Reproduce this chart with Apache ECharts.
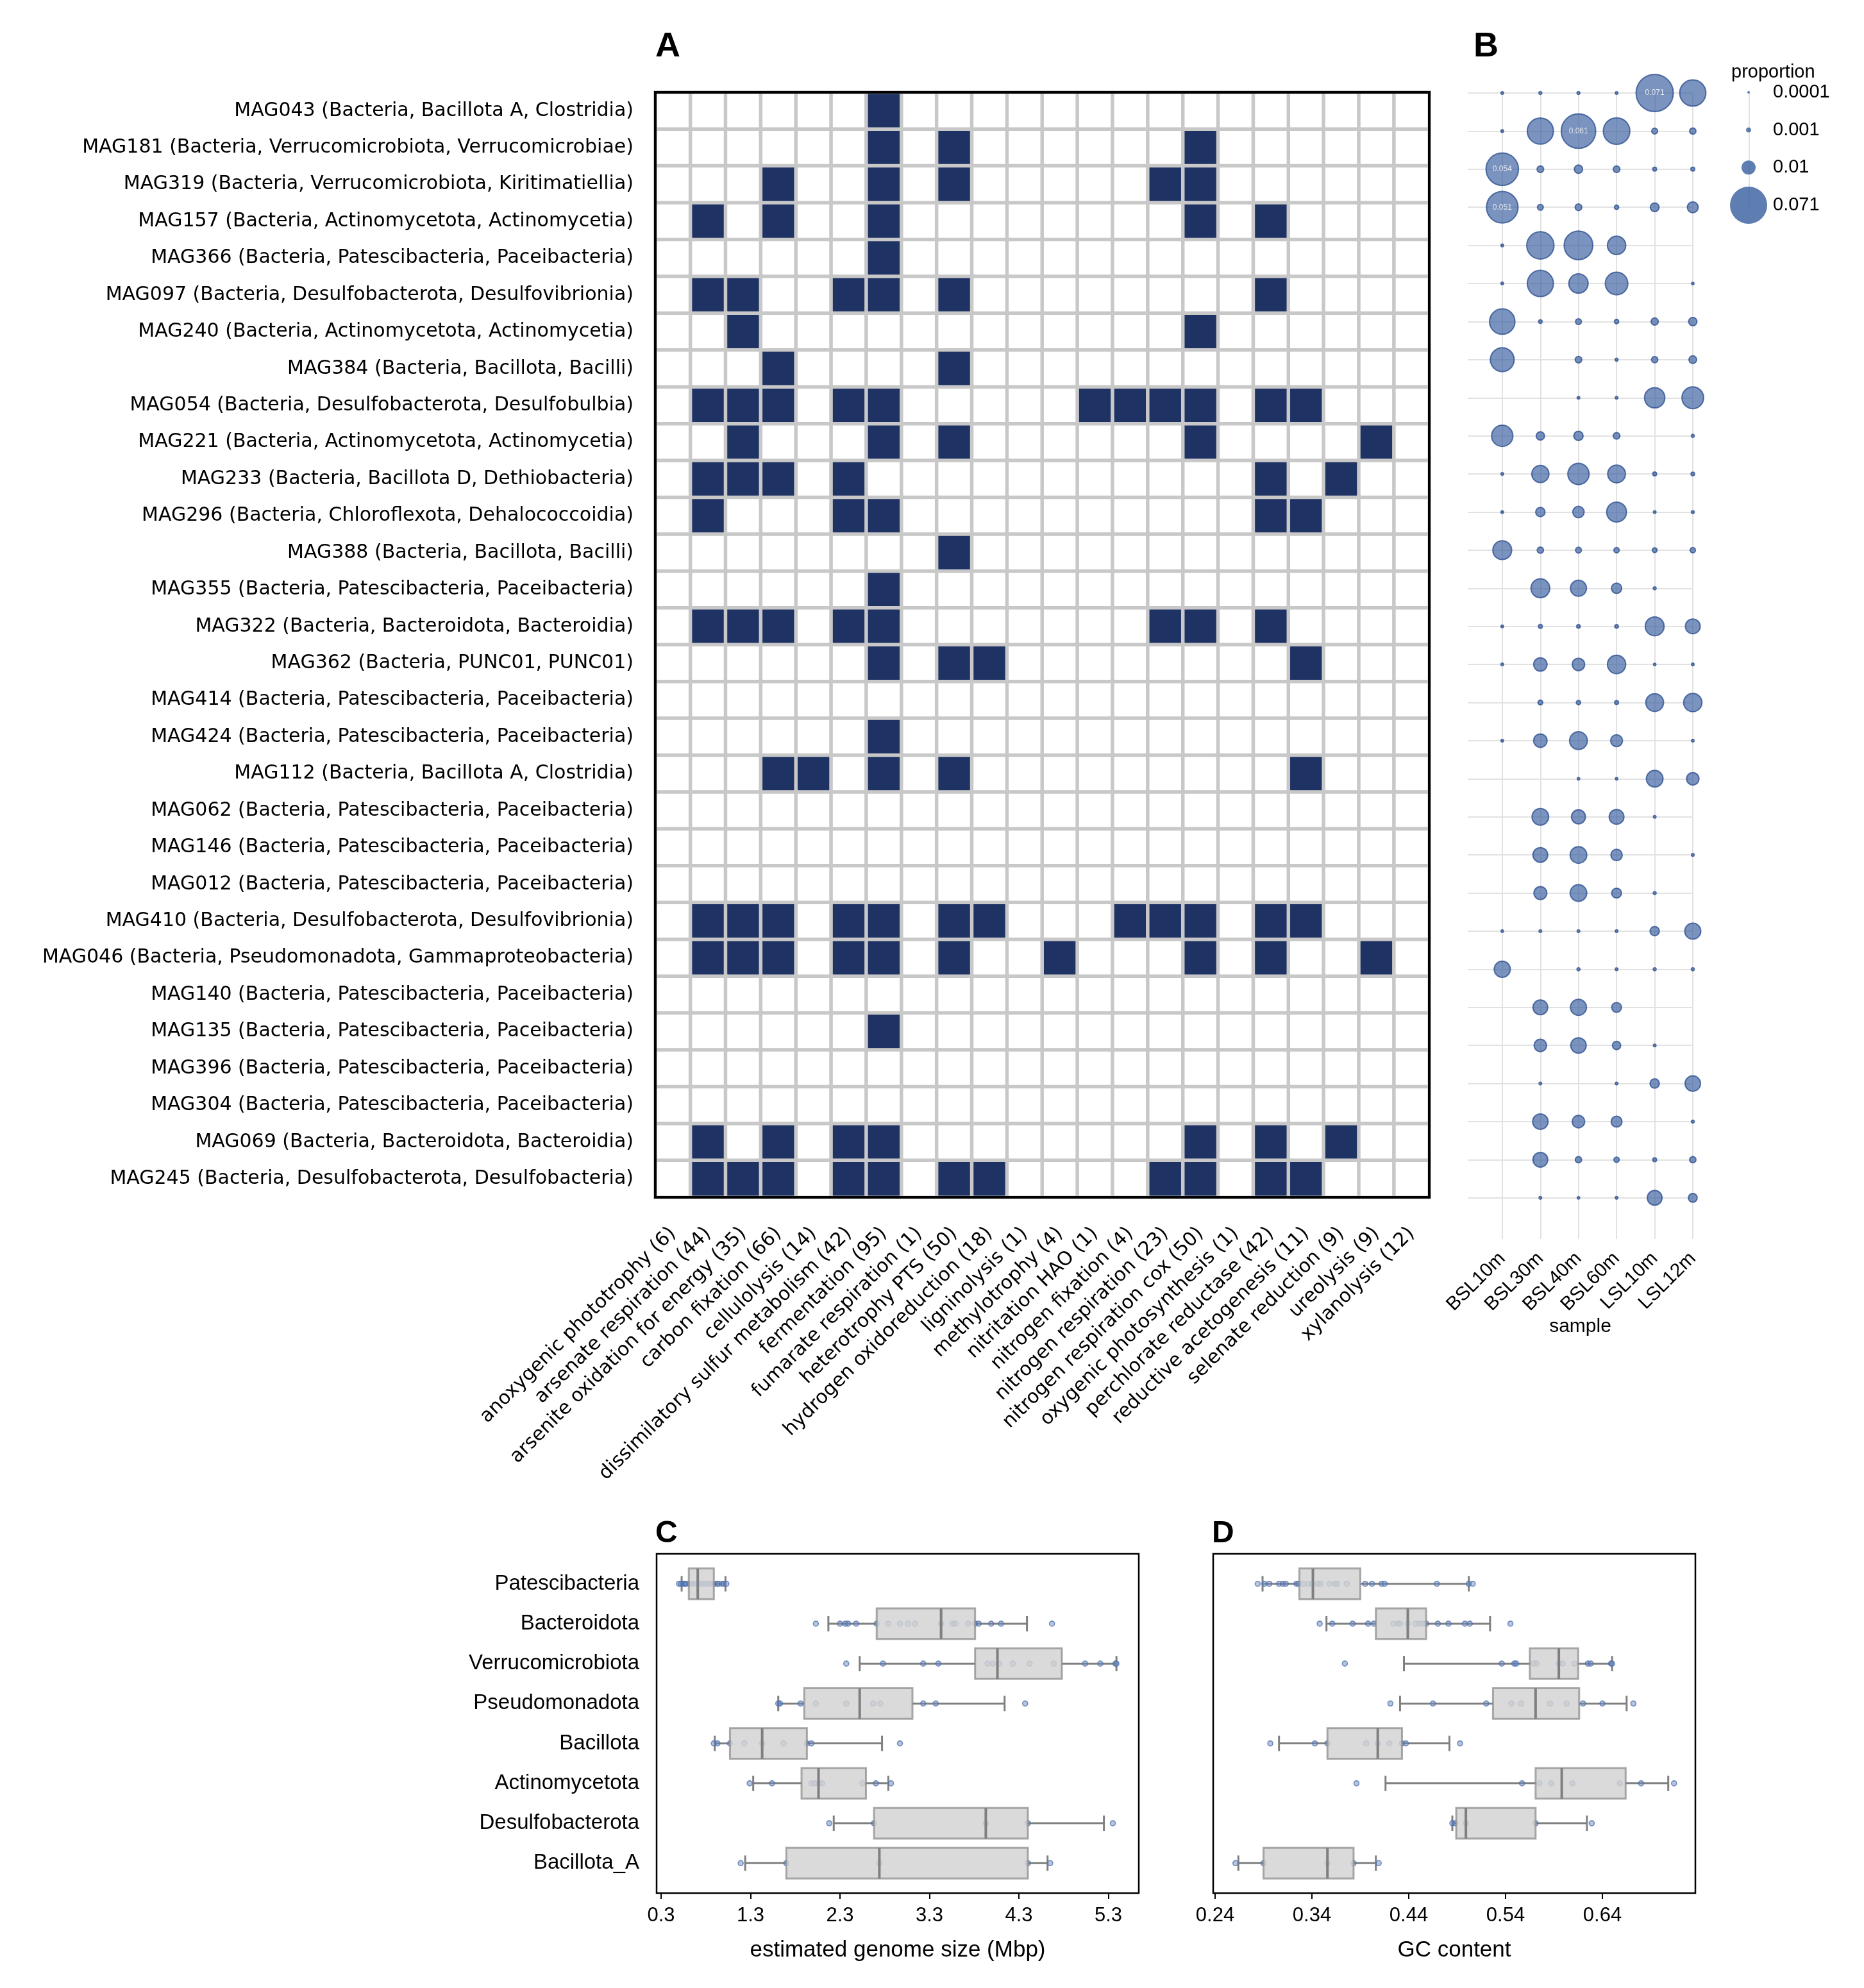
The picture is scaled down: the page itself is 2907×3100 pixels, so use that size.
<!DOCTYPE html>
<html>
<head>
<meta charset="utf-8">
<title>MAG functions, abundance and genome traits</title>
<script src="https://cdn.jsdelivr.net/npm/echarts@6/dist/echarts.min.js"></script>
<style>
html, body { margin: 0; padding: 0; background: #fff; }
#chart { width: 2907px; height: 3100px; }
</style>
</head>
<body>
<div id="chart"></div>
<script>
// ---- panel A: functions per MAG ----
const mags = [
  'MAG043 (Bacteria, Bacillota A, Clostridia)',
  'MAG181 (Bacteria, Verrucomicrobiota, Verrucomicrobiae)',
  'MAG319 (Bacteria, Verrucomicrobiota, Kiritimatiellia)',
  'MAG157 (Bacteria, Actinomycetota, Actinomycetia)',
  'MAG366 (Bacteria, Patescibacteria, Paceibacteria)',
  'MAG097 (Bacteria, Desulfobacterota, Desulfovibrionia)',
  'MAG240 (Bacteria, Actinomycetota, Actinomycetia)',
  'MAG384 (Bacteria, Bacillota, Bacilli)',
  'MAG054 (Bacteria, Desulfobacterota, Desulfobulbia)',
  'MAG221 (Bacteria, Actinomycetota, Actinomycetia)',
  'MAG233 (Bacteria, Bacillota D, Dethiobacteria)',
  'MAG296 (Bacteria, Chloroflexota, Dehalococcoidia)',
  'MAG388 (Bacteria, Bacillota, Bacilli)',
  'MAG355 (Bacteria, Patescibacteria, Paceibacteria)',
  'MAG322 (Bacteria, Bacteroidota, Bacteroidia)',
  'MAG362 (Bacteria, PUNC01, PUNC01)',
  'MAG414 (Bacteria, Patescibacteria, Paceibacteria)',
  'MAG424 (Bacteria, Patescibacteria, Paceibacteria)',
  'MAG112 (Bacteria, Bacillota A, Clostridia)',
  'MAG062 (Bacteria, Patescibacteria, Paceibacteria)',
  'MAG146 (Bacteria, Patescibacteria, Paceibacteria)',
  'MAG012 (Bacteria, Patescibacteria, Paceibacteria)',
  'MAG410 (Bacteria, Desulfobacterota, Desulfovibrionia)',
  'MAG046 (Bacteria, Pseudomonadota, Gammaproteobacteria)',
  'MAG140 (Bacteria, Patescibacteria, Paceibacteria)',
  'MAG135 (Bacteria, Patescibacteria, Paceibacteria)',
  'MAG396 (Bacteria, Patescibacteria, Paceibacteria)',
  'MAG304 (Bacteria, Patescibacteria, Paceibacteria)',
  'MAG069 (Bacteria, Bacteroidota, Bacteroidia)',
  'MAG245 (Bacteria, Desulfobacterota, Desulfobacteria)'
];

const functions = [
  'anoxygenic phototrophy (6)', 'arsenate respiration (44)', 'arsenite oxidation for energy (35)',
  'carbon fixation (66)', 'cellulolysis (14)', 'dissimilatory sulfur metabolism (42)',
  'fermentation (95)', 'fumarate respiration (1)', 'heterotrophy PTS (50)',
  'hydrogen oxidoreduction (18)', 'ligninolysis (1)', 'methylotrophy (4)', 'nitritation HAO (1)',
  'nitrogen fixation (4)', 'nitrogen respiration (23)', 'nitrogen respiration cox (50)',
  'oxygenic photosynthesis (1)', 'perchlorate reductase (42)', 'reductive acetogenesis (11)',
  'selenate reduction (9)', 'ureolysis (9)', 'xylanolysis (12)'
];

// column indices (into functions) present in each MAG, same order as mags
const magFunctions = [
  [6],
  [6, 8, 15],
  [3, 6, 8, 14, 15],
  [1, 3, 6, 15, 17],
  [6],
  [1, 2, 5, 6, 8, 17],
  [2, 15],
  [3, 8],
  [1, 2, 3, 5, 6, 12, 13, 14, 15, 17, 18],
  [2, 6, 8, 15, 20],
  [1, 2, 3, 5, 17, 19],
  [1, 5, 6, 17, 18],
  [8],
  [6],
  [1, 2, 3, 5, 6, 14, 15, 17],
  [6, 8, 9, 18],
  [],
  [6],
  [3, 4, 6, 8, 18],
  [],
  [],
  [],
  [1, 2, 3, 5, 6, 8, 9, 13, 14, 15, 17, 18],
  [1, 2, 3, 5, 6, 8, 11, 15, 17, 20],
  [],
  [6],
  [],
  [],
  [1, 3, 5, 6, 15, 17, 19],
  [1, 2, 3, 5, 6, 8, 9, 14, 15, 17, 18]
];

// ---- panel B: proportion per sample ----
const samples = ['BSL10m', 'BSL30m', 'BSL40m', 'BSL60m', 'LSL10m', 'LSL12m'];
const proportion = [
  [0.0001, 0.0002, 0.0002, 0.0001, 0.071, 0.035],
  [0.0001, 0.035, 0.061, 0.036, 0.0015, 0.0018],
  [0.054, 0.002, 0.0033, 0.002, 0.0005, 0.0005],
  [0.051, 0.0015, 0.002, 0.0007, 0.0037, 0.0058],
  [0.0001, 0.038, 0.042, 0.017, null, null],
  [0.0001, 0.035, 0.019, 0.026, null, 0.00005],
  [0.033, 0.0004, 0.0015, 0.0007, 0.0024, 0.0033],
  [0.029, null, 0.002, 0.0002, 0.0018, 0.0028],
  [null, null, 0.0001, 0.0001, 0.021, 0.024],
  [0.023, 0.0033, 0.0042, 0.002, null, 0.0002],
  [0.0001, 0.015, 0.023, 0.016, 0.0005, 0.0004],
  [0.0001, 0.0042, 0.0064, 0.02, 0.0001, 0.0002],
  [0.018, 0.0018, 0.0015, 0.0012, 0.0009, 0.0012],
  [null, 0.018, 0.013, 0.0052, 0.0002, null],
  [0.0001, 0.0005, 0.0004, 0.0004, 0.018, 0.011],
  [0.0001, 0.009, 0.0077, 0.017, 0.00005, 0.0001],
  [null, 0.0009, 0.0007, 0.0005, 0.016, 0.017],
  [0.0001, 0.009, 0.016, 0.007, null, 0.0001],
  [null, null, 0.00005, 0.00005, 0.014, 0.0077],
  [null, 0.014, 0.0098, 0.011, 0.0001, null],
  [null, 0.011, 0.014, 0.0064, null, 0.0001],
  [null, 0.0083, 0.014, 0.0047, 0.0002, null],
  [0.00005, 0.0001, 0.0001, 0.0001, 0.0042, 0.013],
  [0.013, null, 0.0002, 0.0001, 0.0002, 0.0002],
  [null, 0.011, 0.013, 0.0047, null, null],
  [null, 0.0077, 0.012, 0.0033, 0.0001, null],
  [null, 0.0001, null, 0.0001, 0.0042, 0.012],
  [null, 0.012, 0.0077, 0.0058, null, 0.0002],
  [null, 0.011, 0.0018, 0.0012, 0.0005, 0.0018],
  [null, 0.0001, 0.00005, 0.0001, 0.011, 0.0037]
];
const legendValues = [0.0001, 0.001, 0.01, 0.071];

// ---- panels C and D: genome size and GC per phylum ----
const phyla = ['Patescibacteria', 'Bacteroidota', 'Verrucomicrobiota', 'Pseudomonadota',
  'Bacillota', 'Actinomycetota', 'Desulfobacterota', 'Bacillota_A'];

// [lower whisker, Q1, median, Q3, upper whisker]
const sizeBox = [
  [0.53, 0.61, 0.71, 0.89, 1.02],
  [2.17, 2.71, 3.43, 3.81, 4.39],
  [2.52, 3.81, 4.06, 4.78, 5.39],
  [1.61, 1.90, 2.52, 3.11, 4.14],
  [0.90, 1.07, 1.43, 1.93, 2.77],
  [1.33, 1.87, 2.06, 2.59, 2.84],
  [2.23, 2.68, 3.93, 4.40, 5.25],
  [1.24, 1.70, 2.74, 4.40, 4.62]
];
const sizePoints = [
  [0.50, 0.52, 0.54, 0.56, 0.57, 0.58, 0.62, 0.65, 0.69, 0.72, 0.76, 0.79, 0.83, 0.86, 0.90, 0.93, 0.94, 0.98, 1.00, 1.03],
  [2.03, 2.30, 2.36, 2.39, 2.48, 2.71, 2.84, 2.97, 3.06, 3.14, 3.43, 3.56, 3.59, 3.73, 3.81, 3.85, 3.99, 4.10, 4.67],
  [2.37, 2.78, 3.23, 3.40, 3.95, 4.01, 4.08, 4.23, 4.42, 4.69, 5.04, 5.21, 5.38, 5.39],
  [1.61, 1.63, 1.86, 2.03, 2.37, 2.67, 2.75, 3.23, 3.37, 4.37],
  [0.89, 0.93, 1.07, 1.23, 1.43, 1.67, 1.93, 1.98, 2.97],
  [1.29, 1.54, 1.98, 2.02, 2.06, 2.10, 2.55, 2.70, 2.87],
  [2.18, 2.68, 3.93, 4.40, 5.35],
  [1.19, 1.70, 2.74, 4.40, 4.65]
];
const gcBox = [
  [0.289, 0.327, 0.341, 0.390, 0.502],
  [0.355, 0.406, 0.439, 0.458, 0.524],
  [0.435, 0.565, 0.595, 0.615, 0.650],
  [0.431, 0.527, 0.571, 0.616, 0.665],
  [0.306, 0.356, 0.408, 0.433, 0.482],
  [0.416, 0.571, 0.598, 0.664, 0.708],
  [0.485, 0.489, 0.499, 0.571, 0.624],
  [0.264, 0.290, 0.356, 0.383, 0.406]
];
const gcPoints = [
  [0.284, 0.291, 0.296, 0.306, 0.310, 0.313, 0.324, 0.326, 0.331, 0.336, 0.340, 0.346, 0.349, 0.358, 0.364, 0.366, 0.376, 0.395, 0.402, 0.412, 0.415, 0.469, 0.502, 0.506],
  [0.348, 0.361, 0.382, 0.398, 0.404, 0.424, 0.429, 0.431, 0.439, 0.447, 0.451, 0.455, 0.458, 0.470, 0.481, 0.498, 0.503, 0.545],
  [0.374, 0.536, 0.549, 0.551, 0.569, 0.572, 0.595, 0.599, 0.611, 0.625, 0.628, 0.649, 0.650],
  [0.421, 0.465, 0.520, 0.546, 0.556, 0.586, 0.603, 0.620, 0.640, 0.672],
  [0.297, 0.343, 0.356, 0.396, 0.408, 0.420, 0.433, 0.437, 0.493],
  [0.386, 0.557, 0.575, 0.587, 0.609, 0.658, 0.680, 0.714],
  [0.485, 0.488, 0.499, 0.571, 0.629],
  [0.261, 0.290, 0.356, 0.383, 0.409]
];
const sizeTicks = [0.3, 1.3, 2.3, 3.3, 4.3, 5.3];
const gcTicks = [0.24, 0.34, 0.44, 0.54, 0.64];

const SANS = 'Liberation Sans';
const DEJAVU = 'DejaVu Sans';
const NAVY = '#1f3264';

const heatData = [];
mags.forEach((m, r) => {
  functions.forEach((f, c) => {
    heatData.push([c, r, magFunctions[r].includes(c) ? 1 : 0]);
  });
});

const bubbleData = [];
proportion.forEach((row, r) => {
  row.forEach((v, c) => {
    if (v !== null) bubbleData.push([c, r, v]);
  });
});

const bubbleSize = v => Math.sqrt(12 + 47300 * v);
const rowIdx = n => Array.from({ length: n }, (_, i) => i);

function boxRenderer(part) {
  return function (params, api) {
    const row = api.value(0);
    const lo = api.coord([api.value(1), row]);
    const q1 = api.coord([api.value(2), row]);
    const md = api.coord([api.value(3), row]);
    const q3 = api.coord([api.value(4), row]);
    const hi = api.coord([api.value(5), row]);
    const h = api.size([0, 1])[1] * 0.77;
    const y = lo[1];
    if (part === 'whisker') {
      const st = { stroke: '#808080', lineWidth: 3 };
      return {
        type: 'group',
        children: [
          { type: 'line', shape: { x1: lo[0], y1: y, x2: q1[0], y2: y }, style: st },
          { type: 'line', shape: { x1: q3[0], y1: y, x2: hi[0], y2: y }, style: st },
          { type: 'line', shape: { x1: lo[0], y1: y - h / 4, x2: lo[0], y2: y + h / 4 }, style: st },
          { type: 'line', shape: { x1: hi[0], y1: y - h / 4, x2: hi[0], y2: y + h / 4 }, style: st }
        ]
      };
    }
    return {
      type: 'group',
      children: [
        {
          type: 'rect',
          shape: { x: q1[0], y: y - h / 2, width: q3[0] - q1[0], height: h },
          style: { fill: 'rgba(210,210,210,0.82)', stroke: 'rgba(135,135,135,0.7)', lineWidth: 3 }
        },
        {
          type: 'line',
          shape: { x1: md[0], y1: y - h / 2, x2: md[0], y2: y + h / 2 },
          style: { stroke: '#7f7f7f', lineWidth: 4 }
        }
      ]
    };
  };
}

function boxSeries(axisIdx, boxes, points) {
  const boxData = boxes.map((b, i) => [i].concat(b));
  const ptData = [];
  points.forEach((arr, i) => arr.forEach(v => ptData.push([v, i])));
  return [
    {
      type: 'custom', xAxisIndex: axisIdx, yAxisIndex: axisIdx, z: 1,
      renderItem: boxRenderer('whisker'), encode: { x: [1, 2, 3, 4, 5], y: 0 }, data: boxData
    },
    {
      type: 'scatter', xAxisIndex: axisIdx, yAxisIndex: axisIdx, z: 2, clip: false,
      symbolSize: 8,
      itemStyle: { color: 'rgba(105,136,190,0.6)', borderColor: 'rgba(78,110,170,0.95)', borderWidth: 1.6 },
      data: ptData
    },
    {
      type: 'custom', xAxisIndex: axisIdx, yAxisIndex: axisIdx, z: 3,
      renderItem: boxRenderer('box'), encode: { x: [1, 2, 3, 4, 5], y: 0 }, data: boxData
    }
  ];
}

function phylumAxis(gridIndex, showLabels) {
  return {
    type: 'value', gridIndex: gridIndex, inverse: true, min: -0.75, max: 7.75,
    axisLine: { show: false, onZero: false }, splitLine: { show: false },
    axisTick: { show: false, customValues: rowIdx(8) },
    axisLabel: {
      show: showLabels, customValues: rowIdx(8), formatter: v => phyla[Math.round(v)],
      fontFamily: SANS, fontSize: 33, color: '#000', margin: 27
    }
  };
}

function measureAxis(gridIndex, min, max, ticks, digits, name) {
  return {
    type: 'value', gridIndex: gridIndex, min: min, max: max,
    axisLine: { show: false, onZero: false }, splitLine: { show: false },
    axisTick: { show: true, customValues: ticks, length: 9, lineStyle: { color: '#000', width: 2 } },
    axisLabel: {
      customValues: ticks, formatter: v => v.toFixed(digits),
      fontFamily: SANS, fontSize: 31, color: '#000', margin: 20
    },
    name: name, nameLocation: 'middle', nameGap: 72, nameMoveOverlap: false,
    nameTextStyle: { fontFamily: SANS, fontSize: 35, color: '#000' }
  };
}

const letterStyle = size => ({ fontFamily: SANS, fontWeight: 'bold', fontSize: size, color: '#000' });

const option = {
  animation: false,
  backgroundColor: '#fff',
  title: [
    { text: 'A', left: 1022, top: 46, padding: 0, textStyle: letterStyle(54) },
    { text: 'B', left: 2298, top: 46, padding: 0, textStyle: letterStyle(54) },
    { text: 'C', left: 1022, top: 2368, padding: 0, textStyle: letterStyle(48) },
    { text: 'D', left: 1890, top: 2368, padding: 0, textStyle: letterStyle(48) },
    { text: 'proportion', left: 2700, top: 98, padding: 0, textStyle: { fontFamily: SANS, fontWeight: 'normal', fontSize: 29, color: '#000' } }
  ],
  grid: [
    { left: 1022, top: 144, width: 1207, height: 1723, show: true, z: 5,
      backgroundColor: 'transparent', borderColor: '#000', borderWidth: 4, outerBoundsMode: 'none' },
    { left: 2289, top: 145, width: 351, height: 1787, outerBoundsMode: 'none' },
    { left: 2726, top: 144, width: 2, height: 176, outerBoundsMode: 'none' },
    { left: 1024, top: 2423, width: 752, height: 529, show: true, z: 5,
      backgroundColor: 'transparent', borderColor: '#000', borderWidth: 2.5, outerBoundsMode: 'none' },
    { left: 1892, top: 2423, width: 752, height: 529, show: true, z: 5,
      backgroundColor: 'transparent', borderColor: '#000', borderWidth: 2.5, outerBoundsMode: 'none' }
  ],
  xAxis: [
    {
      type: 'category', gridIndex: 0, data: functions,
      axisLine: { show: false }, axisTick: { show: false }, splitLine: { show: false },
      axisLabel: { interval: 0, rotate: 45, margin: 52, fontFamily: DEJAVU, fontSize: 30, color: '#000' }
    },
    {
      type: 'value', gridIndex: 1, min: -0.906, max: 5,
      axisLine: { show: false, onZero: false },
      axisTick: { show: false, customValues: rowIdx(6) },
      splitLine: { show: true, lineStyle: { color: '#e2e2e2', width: 2 } },
      axisLabel: {
        customValues: rowIdx(6), formatter: v => samples[Math.round(v)],
        rotate: 45, margin: 26, fontFamily: SANS, fontSize: 30, color: '#000'
      },
      name: 'sample', nameLocation: 'middle', nameGap: 122, nameMoveOverlap: false,
      nameTextStyle: { fontFamily: SANS, fontSize: 30, color: '#000' }
    },
    {
      type: 'value', gridIndex: 2, min: 0, max: 2, show: false
    },
    measureAxis(3, 0.25, 5.64, sizeTicks, 1, 'estimated genome size (Mbp)'),
    measureAxis(4, 0.238, 0.736, gcTicks, 2, 'GC content')
  ],
  yAxis: [
    {
      type: 'category', gridIndex: 0, data: mags, inverse: true,
      axisLine: { show: false }, axisTick: { show: false }, splitLine: { show: false },
      axisLabel: { interval: 0, margin: 34, padding: [8, 0, 0, 0], fontFamily: DEJAVU, fontSize: 30, color: '#000' }
    },
    {
      type: 'value', gridIndex: 1, inverse: true, min: 0, max: 30.08,
      axisLine: { show: false, onZero: false }, axisLabel: { show: false },
      axisTick: { show: false, customValues: rowIdx(30) },
      splitLine: { show: true, lineStyle: { color: '#e2e2e2', width: 2 } }
    },
    {
      type: 'category', gridIndex: 2, inverse: true, boundaryGap: false, position: 'right',
      data: legendValues.map(String),
      axisLine: { show: true, onZero: false, lineStyle: { color: '#e2e2e2', width: 2 } },
      axisTick: { show: false }, splitLine: { show: false },
      axisLabel: { interval: 0, margin: 37, fontFamily: SANS, fontSize: 29, color: '#000' }
    },
    phylumAxis(3, true),
    phylumAxis(4, false)
  ],
  visualMap: {
    type: 'piecewise', show: false, seriesIndex: 0, dimension: 2,
    pieces: [{ value: 0, color: '#ffffff' }, { value: 1, color: NAVY }]
  },
  series: [
    {
      type: 'heatmap', xAxisIndex: 0, yAxisIndex: 0, data: heatData,
      itemStyle: { borderColor: '#c8c8c8', borderWidth: 5.5 },
      emphasis: { disabled: true }
    },
    {
      type: 'scatter', xAxisIndex: 1, yAxisIndex: 1, clip: false,
      data: bubbleData,
      symbolSize: val => bubbleSize(val[2]),
      itemStyle: { color: 'rgba(52,90,158,0.82)', borderColor: 'rgba(42,76,142,0.95)', borderWidth: 2 },
      label: {
        show: true, position: 'inside', color: '#fff', fontFamily: SANS, fontSize: 12,
        formatter: p => (p.value[2] >= 0.05 ? String(p.value[2]) : '')
      }
    },
    {
      type: 'scatter', xAxisIndex: 2, yAxisIndex: 2, clip: false,
      data: legendValues.map((v, i) => [1, i, v]),
      symbolSize: val => bubbleSize(val[2]),
      itemStyle: { color: '#365e9f' }
    }
  ].concat(boxSeries(3, sizeBox, sizePoints), boxSeries(4, gcBox, gcPoints))
};

const chart = echarts.init(document.getElementById('chart'), null, { renderer: 'canvas', width: 2907, height: 3100 });
chart.setOption(option);
</script>
</body>
</html>
